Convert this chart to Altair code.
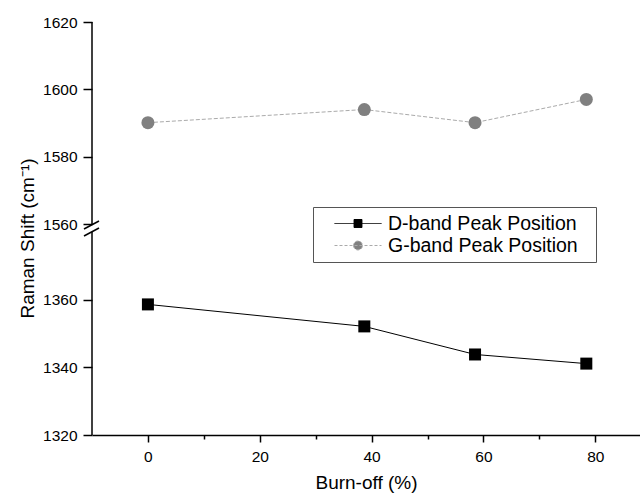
import altair as alt
import pandas as pd

# ---- data ----
burnoff = [0, 38.7, 58.5, 78.4]
d_band = [1358.6, 1352.1, 1343.8, 1341.1]
g_band = [1590.1, 1594.0, 1590.1, 1597.0]
series_names = ["D-band Peak Position", "G-band Peak Position"]

x_tick_values = [0, 10, 20, 30, 40, 50, 60, 70, 80]
y_tick_values = [1320, 1330, 1340, 1350, 1360, 1370,
                 1560, 1570, 1580, 1590, 1600, 1610, 1620]
y_seg_lo = [1320, 1560]
y_seg_hi = [1380, 1620]

FONT = "Liberation Sans"

d_df = pd.DataFrame({"burnoff": burnoff, "shift": d_band})
g_df = pd.DataFrame({"burnoff": burnoff, "shift": g_band})
# legend-only rows, placed outside the plot and clipped away
leg_df = pd.DataFrame({"burnoff": [-100, -100], "shift": [1300, 1300], "series": series_names})
seg_df = pd.DataFrame({"xpos": [-10, -10], "lo": y_seg_lo, "hi": y_seg_hi})

x_scale = alt.Scale(domain=[-10, 88], nice=False, zero=False)
y_scale = alt.Scale(domain=[1320, 1380, 1560, 1620], range=[413, 210, 202, 0],
                    nice=False, zero=False)

x_axis = alt.Axis(
    values=x_tick_values,
    labelExpr="datum.value % 20 === 0 ? datum.label : ''",
    tickSize={"condition": {"test": "datum.value % 20 === 0", "value": 7}, "value": 4},
    tickColor="black", tickWidth=1.5, domainColor="black", domainWidth=1.5,
    labelFont=FONT, labelFontSize=15.5, labelColor="black", labelPadding=7,
    title="Burn-off (%)", titleFont=FONT, titleFontSize=19, titleFontWeight="normal",
    titleColor="black", titlePadding=9, grid=False,
)
y_axis = alt.Axis(
    values=y_tick_values, format="d",
    labelExpr="datum.value % 20 === 0 ? datum.label : ''",
    tickSize={"condition": {"test": "datum.value % 20 === 0", "value": 9}, "value": 4},
    tickColor="black", tickWidth=1.5, domain=False,
    labelFont=FONT, labelFontSize=15.5, labelColor="black", labelPadding=6,
    title="Raman Shift (cm⁻¹)", titleFont=FONT, titleFontSize=19, titleFontWeight="normal",
    titleColor="black", titlePadding=5, titleY=216, grid=False,
)

X = alt.X("burnoff:Q", scale=x_scale, axis=x_axis)
Y = alt.Y("shift:Q", scale=y_scale, axis=y_axis)

d_line = alt.Chart(d_df).mark_line(strokeWidth=1, color="black").encode(x=X, y=Y)
g_line = alt.Chart(g_df).mark_line(strokeWidth=1, color="#aaaaaa", strokeDash=[4, 2]).encode(x=X, y=Y)
d_pts = alt.Chart(d_df).mark_point(filled=True, shape="square", size=144, color="black", opacity=1).encode(x=X, y=Y)
g_pts = alt.Chart(g_df).mark_point(filled=True, shape="circle", size=169, color="#808080", opacity=1).encode(x=X, y=Y)

path_d = "M-1,0L1,0M-0.17,-0.17L0.17,-0.17L0.17,0.17L-0.17,0.17Z"
path_g = "M-1,0L1,0M-0.19,0A0.19,0.19,0,1,0,0.19,0A0.19,0.19,0,1,0,-0.19,0Z"

legend = alt.Legend(
    title="\u00a0", titleFontSize=1, titleOrient="right", titlePadding=12,
    orient="none", legendX=221, legendY=185,
    symbolSize=2209, clipHeight=21, padding=6, symbolOffset=15, labelOffset=6,
    rowPadding=1, labelFont=FONT, labelFontSize=19.5, labelColor="black", labelLimit=0,
    fillColor="white", strokeColor="#555555", symbolStrokeWidth=1, symbolOpacity=1,
)

leg_layer = alt.Chart(leg_df).mark_point(filled=True, clip=True, size=2209, strokeWidth=1, opacity=1).encode(
    x=alt.X("burnoff:Q", scale=x_scale),
    y=alt.Y("shift:Q", scale=y_scale),
    shape=alt.Shape("series:N", scale=alt.Scale(domain=series_names, range=[path_d, path_g]), legend=legend),
    fill=alt.Fill("series:N", scale=alt.Scale(domain=series_names, range=["black", "#808080"]), legend=legend),
    stroke=alt.Stroke("series:N", scale=alt.Scale(domain=series_names, range=["black", "#aaaaaa"]), legend=legend),
    strokeDash=alt.StrokeDash("series:N", scale=alt.Scale(domain=series_names, range=[[1, 0], [3, 2]]), legend=legend),
)

axis_lines = alt.Chart(seg_df).mark_rule(color="black", strokeWidth=1.5).encode(
    x=alt.X("xpos:Q", scale=x_scale), y=alt.Y("lo:Q", scale=y_scale), y2="hi:Q"
)

one = alt.Chart(pd.DataFrame({"a": [0]}))
brk1 = one.mark_rule(color="black", strokeWidth=1.5).encode(
    x=alt.value(-8), x2=alt.value(7), y=alt.value(207), y2=alt.value(199))
brk2 = one.mark_rule(color="black", strokeWidth=1.5).encode(
    x=alt.value(-8), x2=alt.value(7), y=alt.value(214), y2=alt.value(206))

chart = alt.layer(g_line, d_line, g_pts, d_pts, leg_layer, axis_lines, brk1, brk2).properties(
    width=548, height=413,
    autosize=alt.AutoSizeParams(type="none"),
    padding={"left": 92, "top": 22, "right": 0, "bottom": 60},
    background="white",
).configure_view(stroke=None)

chart.save("out.html", embed_options={"renderer": "svg", "actions": False})
